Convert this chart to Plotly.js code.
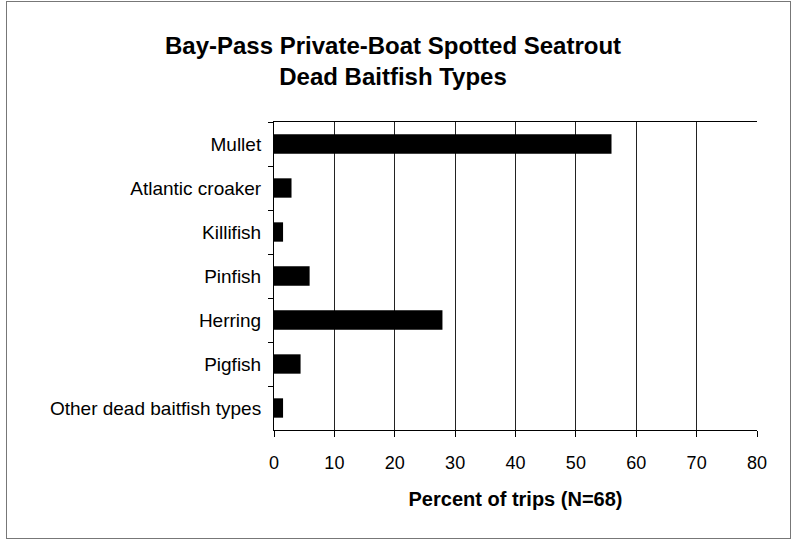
<!DOCTYPE html>
<html>
<head>
<meta charset="utf-8">
<script src="https://cdn.plot.ly/plotly-3.0.1.min.js"></script>
<style>
  html, body { margin: 0; padding: 0; background: #fff; }
  #chart { width: 794px; height: 541px; position: absolute; left: 0; top: 0; }
  #frame { position: absolute; left: 6px; top: 1px; width: 783px; height: 536px; border: 1px solid #777; pointer-events: none; }
</style>
</head>
<body>
<div id="chart"></div>
<div id="frame"></div>
<script>
const categories = ["Mullet", "Atlantic croaker", "Killifish", "Pinfish", "Herring", "Pigfish", "Other dead baitfish types"];
const percentOfTrips = [55.9, 2.9, 1.5, 5.9, 27.9, 4.4, 1.5];
const xTicks = [0, 10, 20, 30, 40, 50, 60, 70, 80];

const FONT = "Arial, 'Liberation Sans', sans-serif";

const trace = {
  type: "bar",
  orientation: "h",
  y: categories,
  x: percentOfTrips,
  marker: { color: "#000000", line: { width: 0 } },
  hoverinfo: "none"
};

const layout = {
  width: 794,
  height: 541,
  margin: { l: 274, r: 37, t: 122, b: 111 },
  paper_bgcolor: "#ffffff",
  plot_bgcolor: "#ffffff",
  showlegend: false,
  bargap: 0.56,
  font: { family: FONT, color: "#000000", size: 17 },
  title: {
    text: "<b>Bay-Pass Private-Boat Spotted Seatrout<br>Dead Baitfish Types</b>",
    font: { family: FONT, size: 24, color: "#000000" },
    x: 0.495, xref: "container", xanchor: "center",
    y: 0.9, yref: "container", yanchor: "top"
  },
  xaxis: {
    range: [0, 80],
    tickvals: xTicks,
    ticktext: xTicks.map(String),
    showgrid: true,
    gridcolor: "#222222",
    gridwidth: 1,
    zeroline: false,
    showline: true,
    linecolor: "#000000",
    linewidth: 1,
    mirror: true,
    ticks: "outside",
    ticklen: 6,
    tickcolor: "#000000",
    ticklabelstandoff: 10,
    tickfont: { family: FONT, size: 18, color: "#000000" },
    title: {
      text: "<b>Percent of trips (N=68)</b>",
      font: { family: FONT, size: 20, color: "#000000" },
      standoff: 20
    },
    fixedrange: true
  },
  yaxis: {
    autorange: "reversed",
    showgrid: false,
    zeroline: false,
    showline: true,
    linecolor: "#000000",
    linewidth: 1,
    ticks: "outside",
    tickson: "boundaries",
    ticklen: 5,
    tickcolor: "#000000",
    ticklabelstandoff: 8,
    tickfont: { family: FONT, size: 19, color: "#000000" },
    fixedrange: true
  }
};

Plotly.newPlot("chart", [trace], layout, { displayModeBar: false, staticPlot: true });
</script>
</body>
</html>
